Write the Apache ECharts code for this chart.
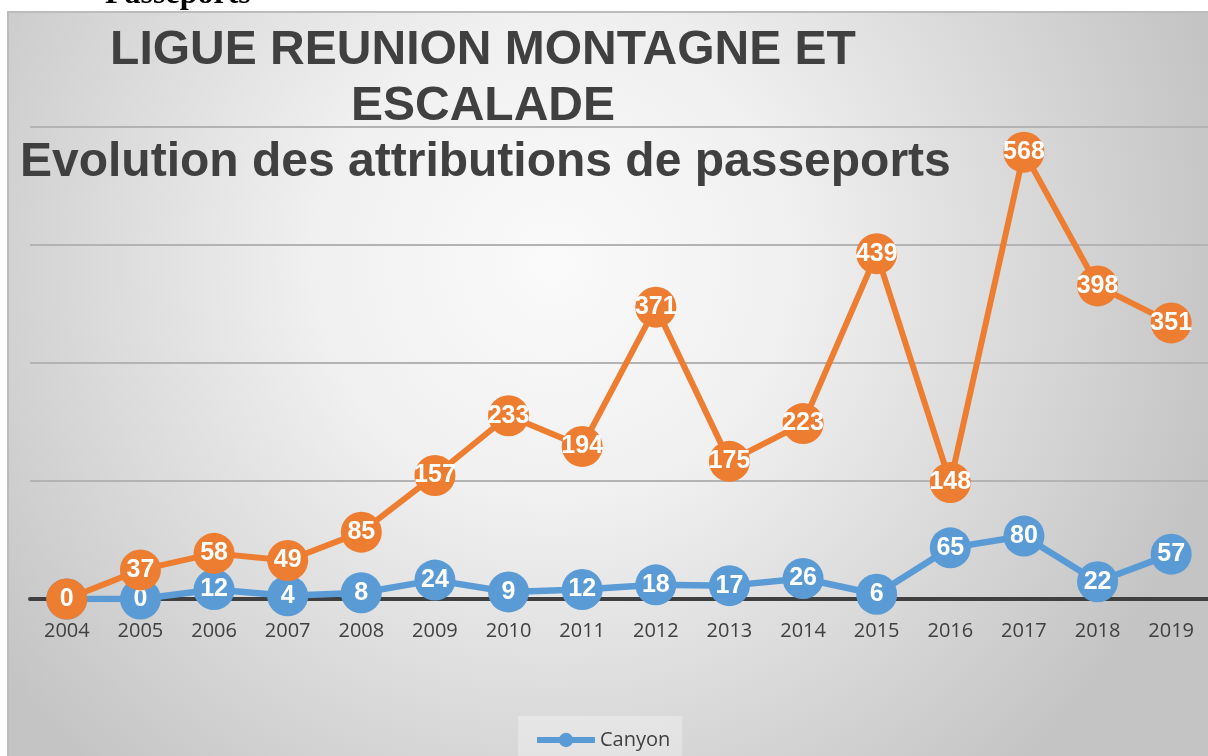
<!DOCTYPE html>
<html>
<head>
<meta charset="utf-8">
<script src="https://cdn.jsdelivr.net/npm/echarts@6/dist/echarts.min.js"></script>
<style>
html,body{margin:0;padding:0;background:#ffffff;}
#chart{width:1208px;height:756px;}
</style>
</head>
<body>
<div id="chart"></div>
<script>
const years = ['2004','2005','2006','2007','2008','2009','2010','2011','2012','2013','2014','2015','2016','2017','2018','2019'];
const canyon = [0,0,12,4,8,24,9,12,18,17,26,6,65,80,22,57];
const escalade = [0,37,58,49,85,157,233,194,371,175,223,439,148,568,398,351];
const yTicks = {min:0, max:600, interval:150};

const chart = echarts.init(document.getElementById('chart'), null, {renderer:'canvas'});
const labelStyle = {show:true, position:'inside', color:'#ffffff', fontWeight:'bold', fontSize:25, fontFamily:'"Liberation Sans", Arial, sans-serif'};
chart.setOption({
  animation:false,
  backgroundColor:'#ffffff',
  graphic:[
    {type:'rect', z:-100, silent:true, shape:{x:8, y:12, width:1212, height:760},
     style:{fill:{type:'radial', x:0.45, y:0.33, r:0.9, colorStops:[
       {offset:0, color:'#fafafa'}, {offset:0.35, color:'#f0f0f0'}, {offset:1, color:'#c4c4c4'}]},
       stroke:'#bcbcbc', lineWidth:2}},
    {type:'text', z:-50, silent:true, style:{text:'Passeports', x:105, y:-5, verticalAlign:'middle',
       font:'bold 32px "Liberation Serif", "Times New Roman", serif', fill:'#000000'}}
  ],
  title:[
    {text:'LIGUE REUNION MONTAGNE ET\nESCALADE', left:483, top:23, textAlign:'center', padding:0,
     textStyle:{fontSize:48, fontWeight:'bold', color:'#404040', fontFamily:'"Liberation Sans", Arial, sans-serif', lineHeight:56}},
    {text:'Evolution des attributions de passeports', left:20, top:135, padding:0,
     textStyle:{fontSize:48, fontWeight:'bold', color:'#404040', fontFamily:'"Liberation Sans", Arial, sans-serif', lineHeight:56}}
  ],
  legend:{
    data:['Canyon'], left:518, top:716, padding:[14,12,14,16], itemWidth:58, itemHeight:18,
    backgroundColor:'rgba(255,255,255,0.3)',
    lineStyle:{width:6, color:'#5B9BD5'},
    textStyle:{fontSize:20, color:'#404040', fontFamily:'"Open Sans", sans-serif'}
  },
  grid:{left:30, width:1184, top:127, height:472},
  xAxis:{
    type:'category', data:years, boundaryGap:true,
    axisLine:{lineStyle:{color:'#404040', width:4}},
    axisTick:{show:false},
    axisLabel:{fontSize:20, color:'#404040', margin:22, fontFamily:'"Open Sans", sans-serif'},
    splitLine:{show:false}
  },
  yAxis:{
    type:'value', min:yTicks.min, max:yTicks.max, interval:yTicks.interval,
    axisLine:{show:false}, axisTick:{show:false}, axisLabel:{show:false},
    splitLine:{lineStyle:{color:'#b3b3b3', width:2}}
  },
  series:[
    {name:'Canyon', type:'line', data:canyon, symbol:'circle', symbolSize:41, showAllSymbol:true,
     lineStyle:{color:'#5B9BD5', width:6.5}, itemStyle:{color:'#5B9BD5'}, label:labelStyle, z:3},
    {name:'Escalade', type:'line', data:escalade, symbol:'circle', symbolSize:41, showAllSymbol:true,
     lineStyle:{color:'#ED7D31', width:6}, itemStyle:{color:'#ED7D31'}, label:labelStyle, z:4}
  ]
});
</script>
</body>
</html>
